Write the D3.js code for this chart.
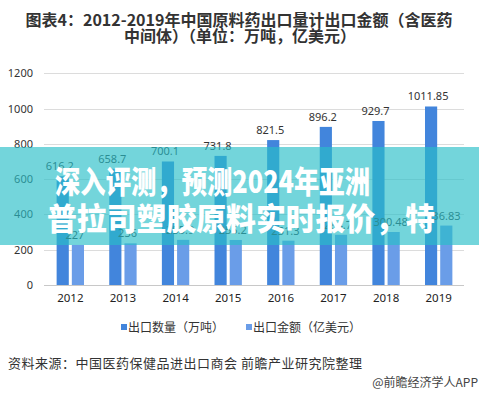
<!DOCTYPE html>
<html>
<head>
<meta charset="utf-8">
<script src="https://cdn.jsdelivr.net/npm/d3@7"></script>
<style>
body { margin: 0; background: #fff; }
svg { display: block; font-family: "Noto Sans CJK SC", "Noto Sans", sans-serif; }
</style>
</head>
<body>
<script>
var years = ["2012", "2013", "2014", "2015", "2016", "2017", "2018", "2019"];
var seriesNames = ["出口数量（万吨）", "出口金额（亿美元）"];
var volume = [616.2, 658.7, 700.1, 731.8, 821.5, 896.2, 929.7, 1011.85];
var amount = [227, 236, 255.9, 255.2, 251.3, 284.7, 300.48, 336.83];
var yTicks = [0, 200, 400, 600, 800, 1000, 1200];
var colors = ["#4285dc", "#6a9de8"];

var width = 479, height = 395;
var svg = d3.select("body").append("svg").attr("width", width).attr("height", height);

// title
var title = svg.append("g").attr("fill", "#333").attr("font-weight", "bold").attr("font-size", 16).attr("text-anchor", "middle");
title.append("text").attr("x", 239).attr("y", 26).text("图表4：2012-2019年中国原料药出口量计出口金额（含医药");
title.append("text").attr("x", 240).attr("y", 42).text("中间体）（单位：万吨，亿美元）");

var x0 = d3.scaleBand().domain(years).range([44, 465]).paddingInner(0.48).paddingOuter(0.24);
var x1 = d3.scaleBand().domain([0, 1]).range([0, x0.bandwidth()]).paddingInner(0.2);
var y = d3.scaleLinear().domain([0, 1200]).range([285, 73.3]);

// grid
svg.append("g").selectAll("line").data(yTicks).enter().append("line")
    .attr("x1", 44).attr("x2", 464)
    .attr("y1", function(d) { return Math.round(y(d)) + 0.5; })
    .attr("y2", function(d) { return Math.round(y(d)) + 0.5; })
    .attr("stroke", function(d) { return d === 0 ? "#c8c8c8" : "#dcdcdc"; });

var yAxis = svg.append("g").attr("transform", "translate(33,0)")
    .call(d3.axisLeft(y).tickValues(yTicks).tickFormat(d3.format("d")).tickSize(0).tickPadding(0));
yAxis.select(".domain").remove();
yAxis.selectAll("text").attr("font-size", 11).attr("fill", "#333").attr("font-family", "Noto Sans, sans-serif");

var xAxis = svg.append("g").attr("transform", "translate(0,292)")
    .call(d3.axisBottom(x0).tickSize(0).tickPadding(0));
xAxis.select(".domain").remove();
xAxis.selectAll("text").attr("font-size", 11.5).attr("fill", "#222").attr("dy", "0.9em").attr("font-family", "Noto Sans, sans-serif");

var rows = years.map(function(yr, i) { return { year: yr, vals: [volume[i], amount[i]] }; });

var groups = svg.append("g").selectAll("g").data(rows).enter().append("g")
    .attr("transform", function(d) { return "translate(" + x0(d.year) + ",0)"; });

groups.selectAll("rect").data(function(d) { return d.vals; }).enter().append("rect")
    .attr("x", function(d, i) { return x1(i); })
    .attr("width", x1.bandwidth())
    .attr("y", function(d) { return y(d); })
    .attr("height", function(d) { return y(0) - y(d); })
    .attr("fill", function(d, i) { return colors[i]; });

groups.selectAll("text").data(function(d) { return d.vals; }).enter().append("text")
    .attr("x", function(d, i) { return x1(i) + x1.bandwidth() / 2 - 3; })
    .attr("y", function(d) { return y(d) - 6; })
    .attr("text-anchor", "middle")
    .attr("font-size", 11)
    .attr("font-family", "Noto Sans, sans-serif")
    .attr("fill", "#333")
    .text(function(d) { return d; });

// legend
var legend = svg.append("g").attr("font-size", 12).attr("fill", "#333");
var legX = [121, 246];
seriesNames.forEach(function(name, i) {
    legend.append("rect").attr("x", legX[i]).attr("y", 324).attr("width", 6).attr("height", 6).attr("fill", colors[i]);
    legend.append("text").attr("x", legX[i] + 7).attr("y", 331.5).text(name);
});

// source
svg.append("text").attr("x", 8).attr("y", 368).attr("font-size", 13).attr("fill", "#333")
    .attr("textLength", 354).attr("lengthAdjust", "spacing")
    .text("资料来源：中国医药保健品进出口商会  前瞻产业研究院整理");
svg.append("text").attr("x", 478).attr("y", 387).attr("font-size", 12).attr("fill", "#444")
    .attr("text-anchor", "end").text("@前瞻经济学人APP");

// overlay banner
svg.append("rect").attr("x", 0).attr("y", 147).attr("width", width).attr("height", 98)
    .attr("fill", "rgb(40,190,200)").attr("fill-opacity", 0.65);
var banner = svg.append("g").attr("fill", "#fff").attr("font-weight", 900).attr("font-size", 31);
banner.append("text").attr("x", 55).attr("y", 193).attr("textLength", 315).attr("lengthAdjust", "spacingAndGlyphs")
    .text("深入评测，预测2024年亚洲");
banner.append("text").attr("x", 47).attr("y", 230).attr("textLength", 388).attr("lengthAdjust", "spacingAndGlyphs")
    .text("普拉司塑胶原料实时报价，特");
</script>
</body>
</html>
